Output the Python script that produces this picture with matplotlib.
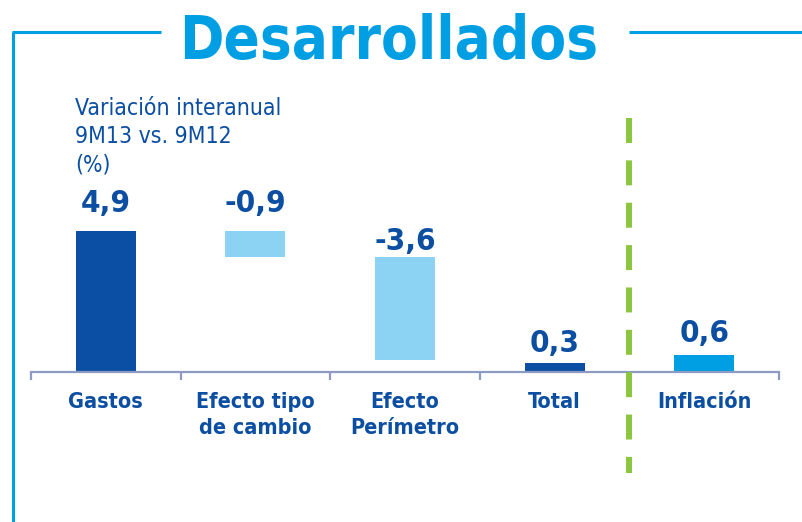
import matplotlib
matplotlib.use("Agg")
import matplotlib.pyplot as plt
from matplotlib.lines import Line2D
import numpy as np

# ---- data ----
categories = ["Gastos", "Efecto tipo\nde cambio", "Efecto\nPerímetro", "Total", "Inflación"]
values = [4.9, -0.9, -3.6, 0.3, 0.6]
kinds = ["total", "delta", "delta", "total", "total"]
title = "Desarrollados"
note = "Variación interanual\n9M13 vs. 9M12\n(%)"

# ---- style ----
DARK = "#0a4fa3"
LIGHT = "#8cd3f3"
CYAN = "#009fe3"
GREEN = "#8cc63f"
TEXT = "#0b4ea2"
AXIS = "#8d9bc4"
bar_colors = [DARK, LIGHT, LIGHT, DARK, CYAN]
label_gap_px = [19, 19, 7, 11, 13]

W, H = 802, 522
fig = plt.figure(figsize=(W / 100, H / 100), dpi=100)
fig.patch.set_facecolor("white")

px_per_unit = 28.8
base_px = 372
ax = fig.add_axes([31 / W, 0, 748 / W, 1])
ax.set_xlim(-0.5, 4.5)
ax.set_ylim((base_px - H) / px_per_unit, base_px / px_per_unit)
ax.set_facecolor("none")

def px2y(p):
    return (base_px - p) / px_per_unit

# waterfall geometry
bottoms, heights = [], []
level = 0.0
for v, k in zip(values, kinds):
    if k == "total":
        bottoms.append(0.0)
        heights.append(v)
        level = v
    else:
        bottoms.append(level + v)
        heights.append(-v)
        level = level + v

x = np.arange(len(categories))
ax.bar(x, heights, bottom=bottoms, width=0.4, color=bar_colors, zorder=2)

for i, (b, h, v) in enumerate(zip(bottoms, heights, values)):
    top = b + h
    txt = f"{v:.1f}".replace(".", ",")
    ax.text(i, top + label_gap_px[i] / px_per_unit, txt, ha="center", va="baseline",
            fontsize=22.5, fontweight="bold", color=TEXT, stretch="condensed", zorder=3)
    ax.text(i, px2y(392), categories[i], ha="center", va="top", fontsize=15.5,
            fontweight="bold", color=TEXT, stretch="condensed", linespacing=1.38)

# axis
for s in ["top", "right", "left"]:
    ax.spines[s].set_visible(False)
ax.spines["bottom"].set_position(("data", 0))
ax.spines["bottom"].set_color(AXIS)
ax.spines["bottom"].set_linewidth(1.6)
ax.set_yticks([])
ax.set_xticks(np.arange(-0.5, 5, 1.0))
ax.tick_params(axis="x", direction="out", length=5.8, width=1.6, color=AXIS, labelbottom=False)

# dashed separator
plt.rcParams["lines.scale_dashes"] = False
sep = Line2D([3.5, 3.5], [px2y(118), px2y(473)], color=GREEN, linewidth=4.3,
             solid_capstyle="butt", dash_capstyle="butt", zorder=4)
sep.set_dashes([18, 12.5])
ax.add_line(sep)

# frame lines (figure coords)
def fl(x0, y0, x1, y1):
    fig.add_artist(Line2D([x0 / W, x1 / W], [1 - y0 / H, 1 - y1 / H], color=CYAN,
                          linewidth=2.2, solid_capstyle="butt"))

fl(13, 32, 13, 522)
fl(12, 32, 161, 32)
fl(629, 32, 802, 32)

fig.text(389 / W, 1 - 59 / H, title, ha="center", va="baseline", fontsize=43,
         fontweight="bold", color=CYAN, stretch="condensed")
fig.text(75 / W, 1 - 97 / H, note, ha="left", va="top", fontsize=16.5, color=TEXT,
         stretch="condensed", linespacing=1.3)

fig.savefig("out.png", dpi=100)
